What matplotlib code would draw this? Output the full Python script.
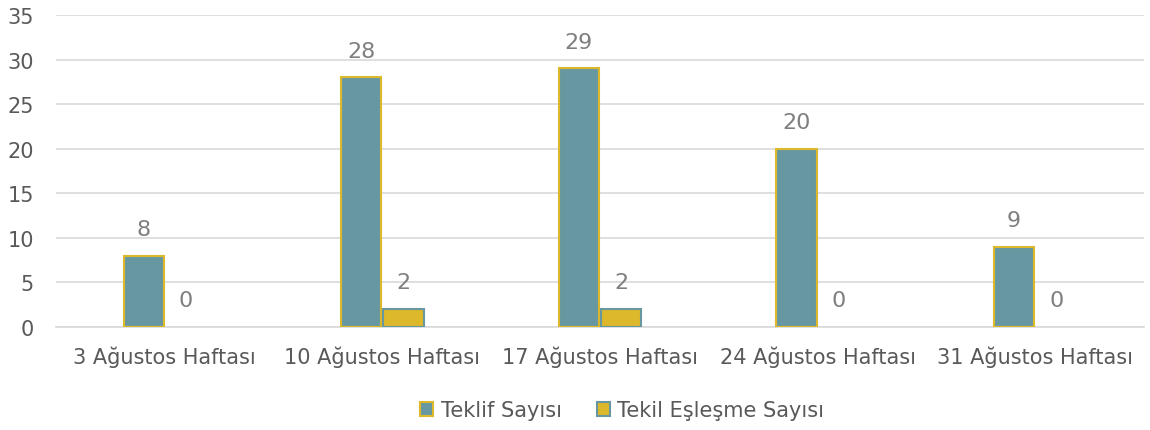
import matplotlib
matplotlib.use('Agg')
import matplotlib.pyplot as plt
from matplotlib.patches import Patch
import numpy as np

plt.rcParams['font.family'] = ['DejaVu Sans']

weeks = ['3 Ağustos Haftası', '10 Ağustos Haftası', '17 Ağustos Haftası',
         '24 Ağustos Haftası', '31 Ağustos Haftası']
teklif = [8, 28, 29, 20, 9]
eslesme = [0, 2, 2, 0, 0]
series_names = ['Teklif Sayısı', 'Tekil Eşleşme Sayısı']

teal = '#6798A1'
yellow = '#DDB82A'
grid_c = '#D9D9D9'
text_c = '#595959'
label_c = '#7F7F7F'

fig = plt.figure(figsize=(11.5, 4.31), dpi=100)
ax = fig.add_axes([0.0487, 0.239, 0.9461, 0.724])

x = np.arange(len(weeks))
w = 0.184
off = 0.097
b1 = ax.bar(x - off, teklif, w, color=teal, edgecolor=yellow, linewidth=1.5,
            zorder=3)
b2 = ax.bar(x + off, eslesme, w, color=yellow, edgecolor=teal, linewidth=1.5,
            zorder=3)

for bars, vals in ((b1, teklif), (b2, eslesme)):
    for r, v in zip(bars, vals):
        if v == 0:
            r.set_edgecolor('none')
        ax.annotate(str(v), (r.get_x() + r.get_width() / 2, v),
                    xytext=(0, 12), textcoords='offset points',
                    ha='center', va='bottom', fontsize=16, color=label_c)

ax.set_xlim(-0.5, len(weeks) - 0.5)
ax.set_ylim(0, 35)
ax.set_yticks(range(0, 36, 5))
ax.set_xticks(x)
ax.set_xticklabels(weeks)
ax.yaxis.grid(True, color=grid_c, linewidth=1.2, zorder=0)
ax.set_axisbelow(True)
for s in ['top', 'right', 'left']:
    ax.spines[s].set_visible(False)
ax.spines['bottom'].set_color(grid_c)
ax.spines['bottom'].set_linewidth(1.2)
ax.tick_params(axis='both', length=0, labelsize=15, labelcolor=text_c)
ax.tick_params(axis='x', pad=13)
ax.tick_params(axis='y', pad=16)

handles = [Patch(facecolor=teal, edgecolor=yellow, linewidth=1.5, label=series_names[0]),
           Patch(facecolor=yellow, edgecolor=teal, linewidth=1.5, label=series_names[1])]
leg = fig.legend(handles=handles, loc='center', bbox_to_anchor=(0.541, 0.046),
                 ncol=2, frameon=False, fontsize=15, handlelength=0.62,
                 handleheight=0.62, handletextpad=0.38, columnspacing=1.68)
for t in leg.get_texts():
    t.set_color(text_c)

fig.savefig('out.png', dpi=100)
